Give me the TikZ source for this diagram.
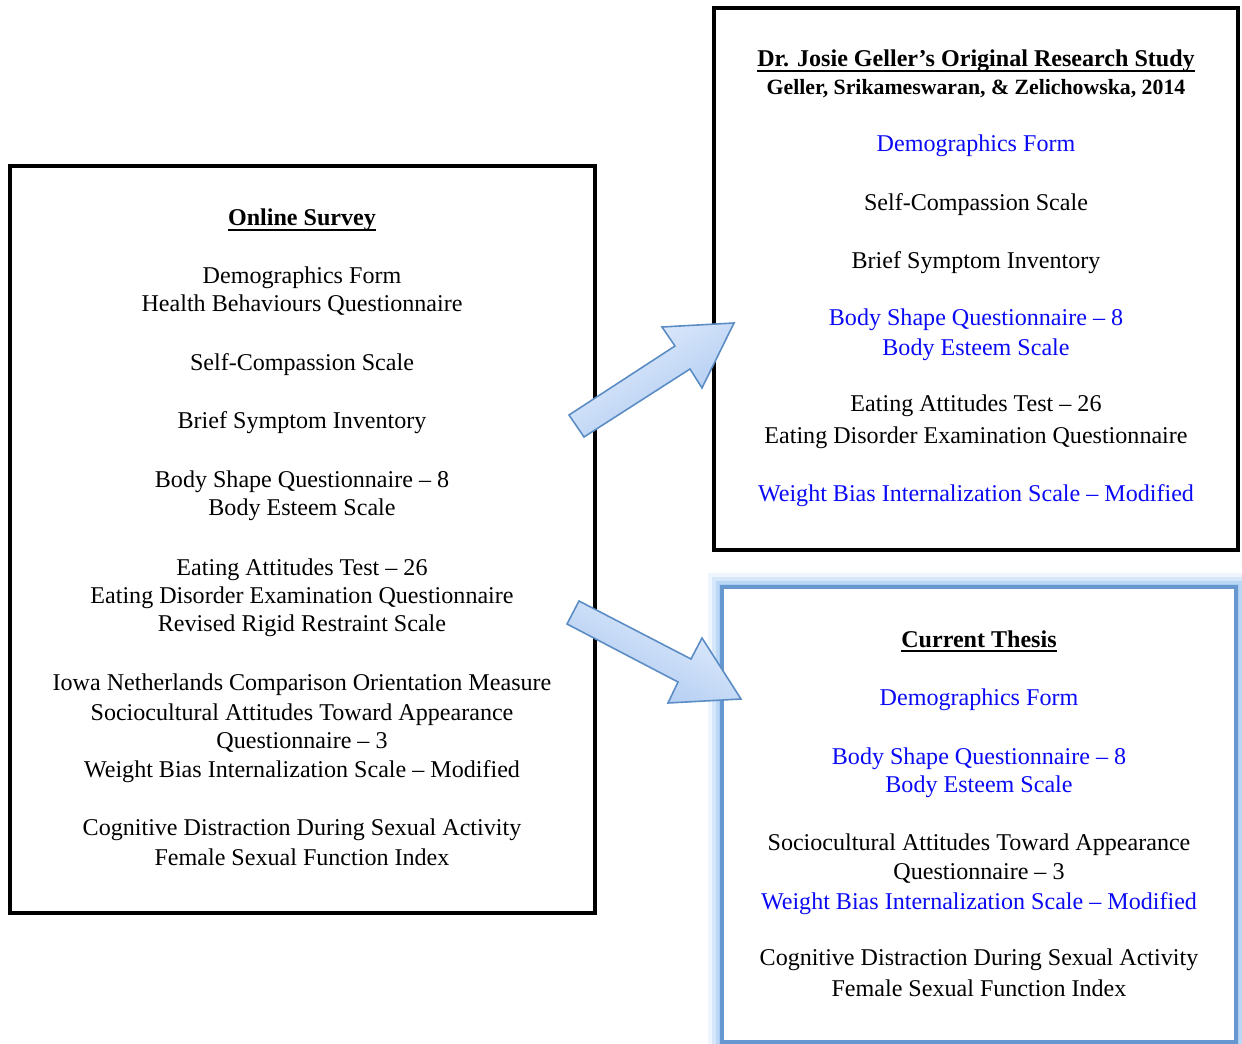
\documentclass[tikz,border=0pt]{standalone}
\usepackage{fontspec}
\setmainfont{Liberation Serif}
\usetikzlibrary{shapes, arrows.meta, calc, positioning}

\definecolor{arrowlight}{HTML}{E6EFFD}
\definecolor{arrowdark}{HTML}{A9C7F0}
\definecolor{arrowline}{HTML}{5B8CC4}
\definecolor{glowblue}{HTML}{A8CCF2}
\definecolor{thesisline}{HTML}{6797CF}
\definecolor{itemblue}{HTML}{0A0AF5}

\tikzset{
  item/.style={anchor=base, inner sep=0pt, font=\fontsize{13.7}{16}\selectfont},
  newitem/.style={item, text=itemblue},
  heading/.style={anchor=base, inner sep=0pt, font=\fontsize{13.7}{16}\selectfont\bfseries},
  subheading/.style={anchor=base, inner sep=0pt, font=\fontsize{12.4}{15}\selectfont\bfseries},
  rule/.style={line width=1.1pt},
  surveybox/.style={draw=black, line width=2.3pt},
  blockarrow/.style={draw=arrowline, line width=0.9pt, line join=miter, top color=arrowlight, bottom color=arrowdark}
}

\begin{document}
\begin{tikzpicture}[x=0.02cm, y=-0.02cm]
\useasboundingbox (0,0) rectangle (1242,1044);

% Online survey
\draw[surveybox] (10,166) rectangle (595,913);
\node[heading] (os0) at (302,226) {Online Survey};
\draw[rule] ([yshift=-2.2pt]os0.base west) -- ([yshift=-2.2pt]os0.base east);
\node[item] (os1) at (302,284) {Demographics Form};
\node[item] (os2) at (302,312) {Health Behaviours Questionnaire};
\node[item] (os3) at (302,371) {Self-Compassion Scale};
\node[item] (os4) at (302,429) {Brief Symptom Inventory};
\node[item] (os5) at (302,488) {Body Shape Questionnaire -- 8};
\node[item] (os6) at (302,516) {Body Esteem Scale};
\node[item] (os7) at (302,575) {Eating Attitudes Test -- 26};
\node[item] (os8) at (302,603) {Eating Disorder Examination Questionnaire};
\node[item] (os9) at (302,631) {Revised Rigid Restraint Scale};
\node[item] (os10) at (302,690) {Iowa Netherlands Comparison Orientation Measure};
\node[item] (os11) at (302,720) {Sociocultural Attitudes Toward Appearance};
\node[item] (os12) at (302,748) {Questionnaire -- 3};
\node[item] (os13) at (302,777) {Weight Bias Internalization Scale -- Modified};
\node[item] (os14) at (302,835) {Cognitive Distraction During Sexual Activity};
\node[item] (os15) at (302,865) {Female Sexual Function Index};

% Original study
\draw[surveybox] (714,8) rectangle (1238,550);
\node[heading] (gs0) at (976,67) {Dr. Josie Geller’s Original Research Study};
\draw[rule] ([yshift=-2.2pt]gs0.base west) -- ([yshift=-2.2pt]gs0.base east);
\node[subheading] (gs1) at (976,95) {Geller, Srikameswaran, \& Zelichowska, 2014};
\node[newitem] (gs2) at (976,152) {Demographics Form};
\node[item] (gs3) at (976,211) {Self-Compassion Scale};
\node[item] (gs4) at (976,269) {Brief Symptom Inventory};
\node[newitem] (gs5) at (976,326) {Body Shape Questionnaire -- 8};
\node[newitem] (gs6) at (976,356) {Body Esteem Scale};
\node[item] (gs7) at (976,412) {Eating Attitudes Test -- 26};
\node[item] (gs8) at (976,443) {Eating Disorder Examination Questionnaire};
\node[newitem] (gs9) at (976,501) {Weight Bias Internalization Scale -- Modified};

% Current thesis, glowing frame
\fill[glowblue, opacity=0.2] (708,573) rectangle (1250,1056);
\fill[glowblue, opacity=0.35] (712,577) rectangle (1246,1052);
\fill[glowblue, opacity=0.6] (716,581) rectangle (1242,1048);
\fill[glowblue] (719,584) rectangle (1239,1045);
\filldraw[fill=white, draw=thesisline, line width=1.8pt] (722,587) rectangle (1236,1042);
\node[heading] (ct0) at (979,647) {Current Thesis};
\draw[rule] ([yshift=-2.2pt]ct0.base west) -- ([yshift=-2.2pt]ct0.base east);
\node[newitem] (ct1) at (979,705) {Demographics Form};
\node[newitem] (ct2) at (979,764) {Body Shape Questionnaire -- 8};
\node[newitem] (ct3) at (979,792) {Body Esteem Scale};
\node[item] (ct4) at (979,850) {Sociocultural Attitudes Toward Appearance};
\node[item] (ct5) at (979,879) {Questionnaire -- 3};
\node[newitem] (ct6) at (979,909) {Weight Bias Internalization Scale -- Modified};
\node[item] (ct7) at (979,965) {Cognitive Distraction During Sexual Activity};
\node[item] (ct8) at (979,996) {Female Sexual Function Index};

% Block arrows
\path[blockarrow, shading angle=33] (569,415) -- (675,346) -- (662,327) -- (734,323)
  -- (702,388) -- (690,369) -- (584,437) -- cycle;
\path[blockarrow, shading angle=-27] (579,601) -- (691,659) -- (702,638) -- (741,699)
  -- (668,703) -- (678,682) -- (567,624) -- cycle;

\end{tikzpicture}
\end{document}
